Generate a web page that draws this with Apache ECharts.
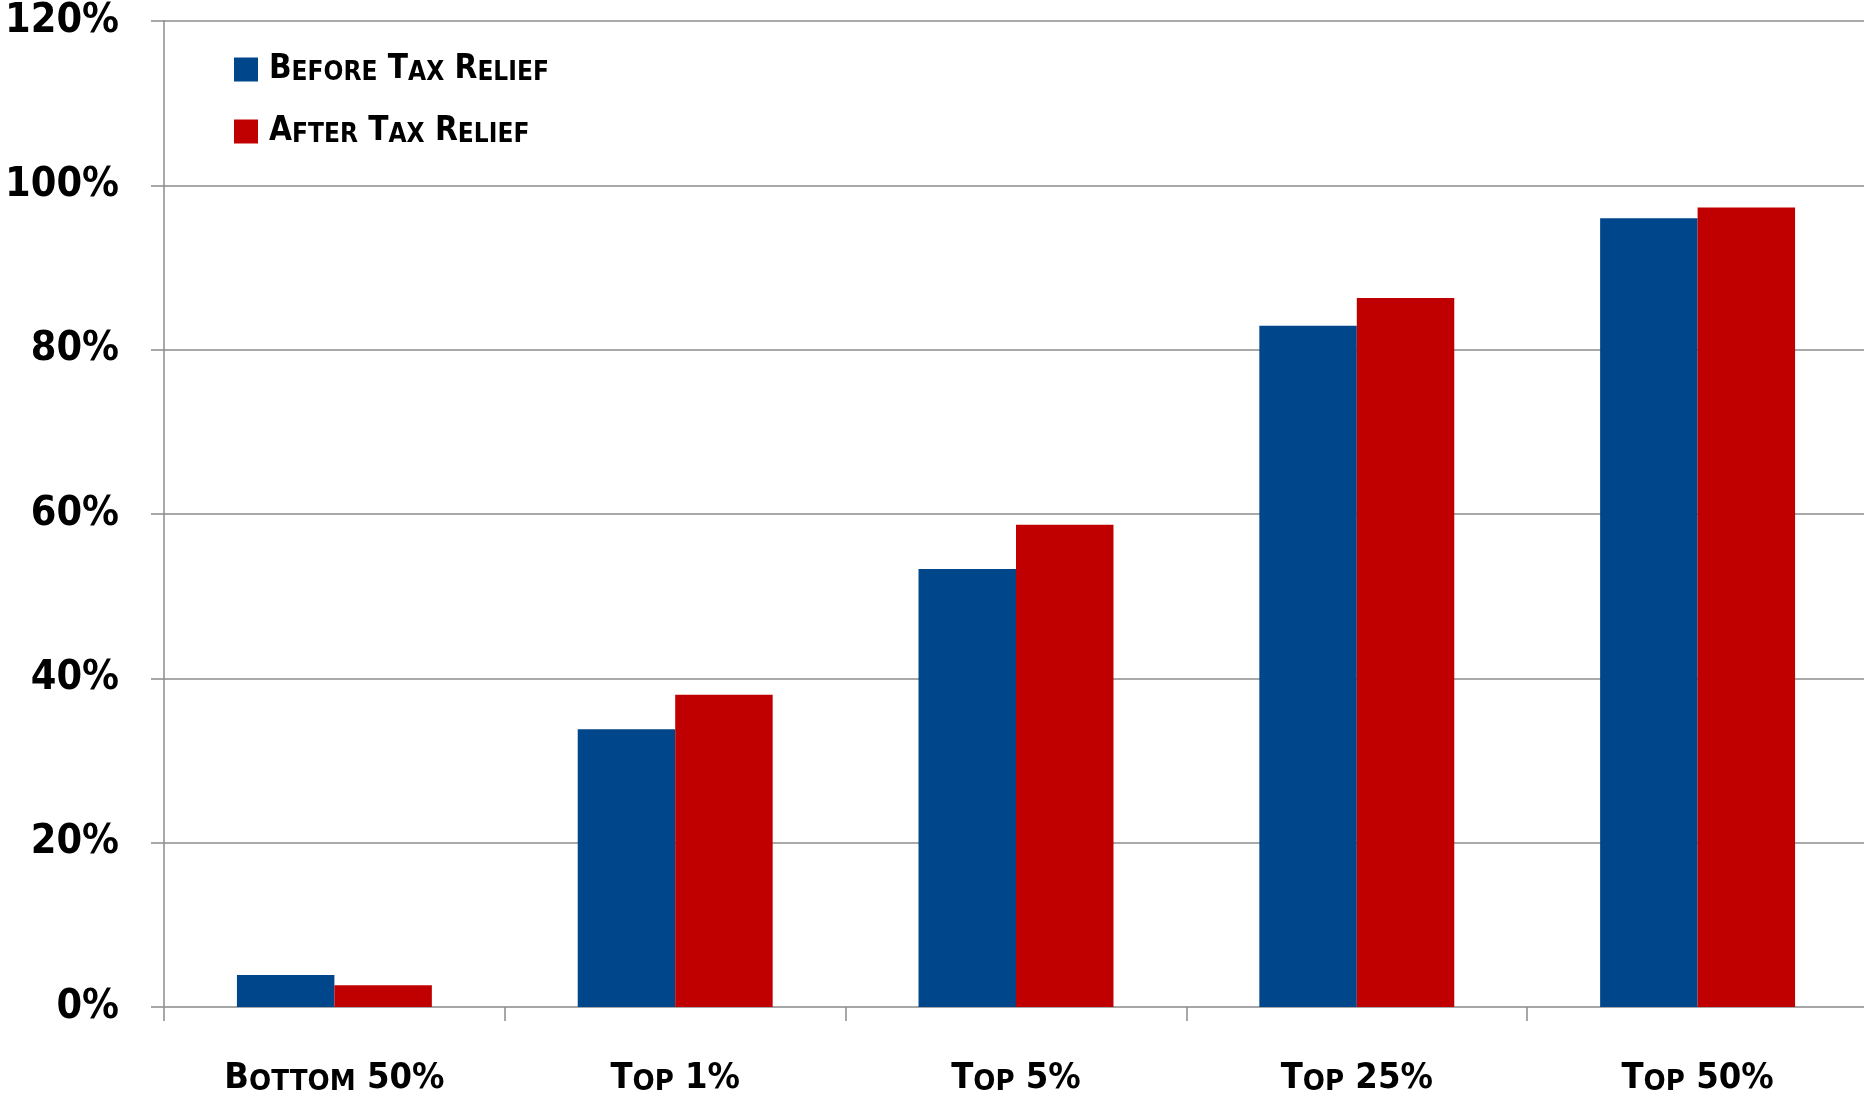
<!DOCTYPE html>
<html>
<head>
<meta charset="utf-8">
<script src="https://cdn.jsdelivr.net/npm/echarts@6/dist/echarts.min.js"></script>
<style>
  html, body { margin: 0; padding: 0; background: #fff; }
  #chart { width: 1864px; height: 1095px; }
</style>
</head>
<body>
<div id="chart"></div>
<script>
const categories = ["Bottom 50%", "Top 1%", "Top 5%", "Top 25%", "Top 50%"];
const beforeRelief = [3.9, 33.8, 53.3, 82.9, 96.0];
const afterRelief = [2.65, 38.0, 58.7, 86.3, 97.3];
const seriesNames = ["Before Tax Relief", "After Tax Relief"];

const FONT = "'DejaVu Sans Condensed', 'Liberation Sans Narrow', sans-serif";
const GRID_GRAY = "#8c8c8c";

// fake small caps with rich text: lowercase runs become smaller uppercase
function smallCaps(str) {
  return str.split(/([a-z]+)/).filter(p => p.length).map(p =>
    /^[a-z]+$/.test(p) ? "{s|" + p.toUpperCase() + "}" : "{b|" + p + "}"
  ).join("");
}

function capsRich(big, small) {
  const base = { fontFamily: FONT, fontWeight: "bold", color: "#000", verticalAlign: "bottom" };
  return {
    b: Object.assign({}, base, { fontSize: big }),
    s: Object.assign({}, base, { fontSize: small })
  };
}

const chart = echarts.init(document.getElementById("chart"));
chart.setOption({
  animation: false,
  grid: { left: 164, right: -4, top: 21, bottom: 88, containLabel: false, outerBoundsMode: "none" },
  legend: {
    orient: "vertical",
    left: 229,
    top: 48,
    itemWidth: 24,
    itemHeight: 24,
    itemGap: 29,
    icon: "rect",
    data: seriesNames,
    formatter: name => smallCaps(name),
    textStyle: { padding: [0, 0, 0, 6], rich: capsRich(33, 26) }
  },
  xAxis: {
    type: "category",
    data: categories,
    axisLine: { lineStyle: { color: "#a6a6a6", width: 2 } },
    axisTick: { show: true, length: 14, lineStyle: { color: GRID_GRAY, width: 1.5 } },
    axisLabel: {
      margin: 54,
      formatter: v => smallCaps(v),
      rich: capsRich(36, 29)
    }
  },
  yAxis: {
    type: "value",
    min: 0,
    max: 120,
    interval: 20,
    axisLine: { show: true, lineStyle: { color: GRID_GRAY, width: 1.5 } },
    axisTick: { show: true, length: 13, lineStyle: { color: GRID_GRAY, width: 1.5 } },
    splitLine: { lineStyle: { color: GRID_GRAY, width: 1.5 } },
    axisLabel: {
      margin: 45,
      formatter: "{value}%",
      fontFamily: FONT,
      fontWeight: "bold",
      fontSize: 41,
      color: "#000",
      padding: [6, 0, 0, 0]
    }
  },
  series: [
    {
      name: seriesNames[0],
      type: "bar",
      data: beforeRelief,
      barWidth: "28.6%",
      barGap: "0%",
      itemStyle: { color: "#00468b" }
    },
    {
      name: seriesNames[1],
      type: "bar",
      data: afterRelief,
      barWidth: "28.6%",
      barGap: "0%",
      itemStyle: { color: "#c00000" }
    }
  ]
});
</script>
</body>
</html>
